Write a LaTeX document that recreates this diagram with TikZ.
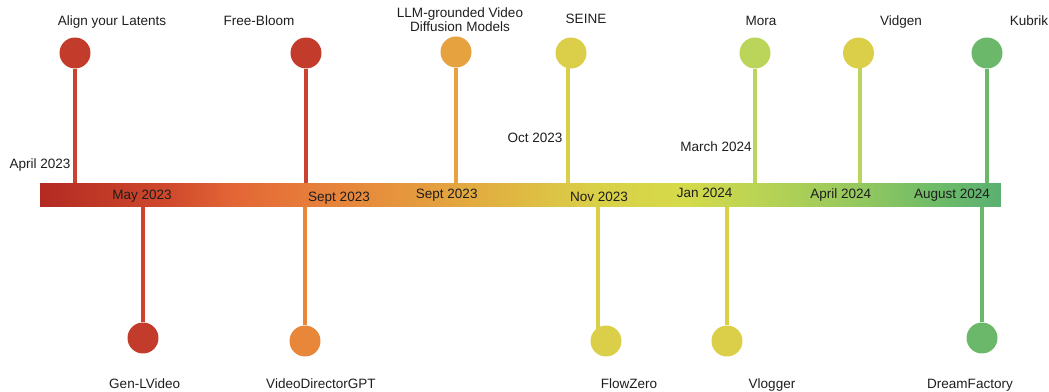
\documentclass[tikz,border=0pt]{standalone}
\usepackage{fontspec}
\setmainfont{Liberation Sans}
\usetikzlibrary{positioning,backgrounds}
\definecolor{tlred}{HTML}{C33B2A}
\definecolor{tlredstem}{HTML}{C9432F}
\definecolor{tlorange}{HTML}{E8863A}
\definecolor{tlamber}{HTML}{E6A23E}
\definecolor{tlyellow}{HTML}{DBCF4A}
\definecolor{tllime}{HTML}{BBD55A}
\definecolor{tlgreen}{HTML}{6BB86B}
\definecolor{tltext}{HTML}{1E1E1E}
% colour stops of the time bar
\definecolor{bar0}{HTML}{B22A22}
\definecolor{bar1}{HTML}{D04A2C}
\definecolor{bar2}{HTML}{E36535}
\definecolor{bar3}{HTML}{E67A3A}
\definecolor{bar4}{HTML}{E6943D}
\definecolor{bar5}{HTML}{E0B441}
\definecolor{bar6}{HTML}{D9D048}
\definecolor{bar7}{HTML}{D5DA4A}
\definecolor{bar8}{HTML}{B9D354}
\definecolor{bar9}{HTML}{95C85E}
\definecolor{bar10}{HTML}{6FBC68}
\definecolor{bar11}{HTML}{5AB071}
\pgfdeclarehorizontalshading{timebar}{100bp}{color(0bp)=(bar0); color(25bp)=(bar0);
  color(31.8bp)=(bar1); color(35bp)=(bar2); color(38.5bp)=(bar3); color(43.5bp)=(bar4);
  color(49bp)=(bar5); color(54bp)=(bar6); color(58.5bp)=(bar7); color(62.5bp)=(bar8);
  color(67.5bp)=(bar9); color(71.5bp)=(bar10); color(75bp)=(bar11); color(100bp)=(bar11)}

\begin{document}
\begin{tikzpicture}[x=0.02cm, y=-0.02cm,
    every node/.style={font=\fontsize{7.7}{7}\selectfont, text=tltext},
    bead/.style={circle, minimum size=0.62cm, inner sep=0pt},
    stem/.style={line width=1.9pt}]
   \useasboundingbox (0,0) rectangle (1049,392);
   \node (bar) [shade, shading=timebar, minimum width=19.22cm, minimum height=0.47cm, inner sep=0pt] at (520.5,195.25) {};
   % top events
   \begin{scope}[every node/.append style={bead}]
    \node (p1) [fill=tlred] at (75,53) {};
    \node (p2) [fill=tlred] at (306,53) {};
    \node (p3) [fill=tlamber] at (456,52) {};
    \node (p4) [fill=tlyellow] at (571,53) {};
    \node (p5) [fill=tllime] at (755,53) {};
    \node (p6) [fill=tlyellow] at (858.5,53) {};
    \node (p7) [fill=tlgreen] at (987,53) {};
   \end{scope}
   % bottom events
   \begin{scope}[every node/.append style={bead}]
    \node (q1) [fill=tlred] at (143,338) {};
    \node (q2) [fill=tlorange] at (305,341) {};
    \node (q3) [fill=tlyellow] at (606,341) {};
    \node (q4) [fill=tlyellow] at (727,341) {};
    \node (q5) [fill=tlgreen] at (982,338) {};
   \end{scope}
   \coordinate (s3) at (598,0);
   \coordinate (s4) at (568,0);
   \coordinate (s6) at (860,0);
   \begin{scope}[on background layer, every path/.style={stem}]
    \draw[tlredstem] (p1) -- (p1 |- bar.north);
    \draw[tlredstem] (p2) -- (p2 |- bar.north);
    \draw[tlamber] (p3) -- (p3 |- bar.north);
    \draw[tlyellow!90!tllime] (s4 |- p4) -- (s4 |- bar.north);
    \draw[tllime] (p5) -- (p5 |- bar.north);
    \draw[tllime] (s6 |- p6) -- (s6 |- bar.north);
    \draw[tlgreen] (p7) -- (p7 |- bar.north);
    \draw[tlredstem] (q1) -- (q1 |- bar.south);
    \draw[tlorange] (q2) -- (q2 |- bar.south);
    \draw[tlyellow] (s3 |- q3) -- (s3 |- bar.south);
    \draw[tlyellow] (q4) -- (q4 |- bar.south);
    \draw[tlgreen] (q5) -- (q5 |- bar.south);
   \end{scope}
   % names
   \begin{scope}[every node/.append style={anchor=base}]
    \node (n1) at (112,26) {Align your Latents};
    \node (n2) at (259,26) {Free-Bloom};
    \node (n3) [anchor=center, align=center] at (460,19.6) {LLM-grounded Video\\Diffusion Models};
    \node (n4) at (586,24) {SEINE};
    \node (n5) at (761,26) {Mora};
    \node (n6) at (901,26) {Vidgen};
    \node (n7) at (1029,26) {Kubrik};
    \node (m1) at (144.7,388) {Gen-LVideo};
    \node (m2) at (321,388) {VideoDirectorGPT};
    \node (m3) at (629,388) {FlowZero};
    \node (m4) at (772,388) {Vlogger};
    \node (m5) at (970,388) {DreamFactory};
   \end{scope}
   % dates
   \begin{scope}[every node/.append style={anchor=base}]
    \node (d1) at (40,168.3) {April 2023};
    \node (d2) at (142,199.7) {May 2023};
    \node (d3) at (339,201.3) {Sept 2023};
    \node (d4) at (446.7,198.7) {Sept 2023};
    \node (d5) at (535,142.3) {Oct 2023};
    \node (d6) at (599,201.3) {Nov 2023};
    \node (d7) at (704.7,197) {Jan 2024};
    \node (d8) at (716,151) {March 2024};
    \node (d9) at (840.8,198) {April 2024};
    \node (d10) at (952,198.7) {August 2024};
   \end{scope}
\end{tikzpicture}
\end{document}
